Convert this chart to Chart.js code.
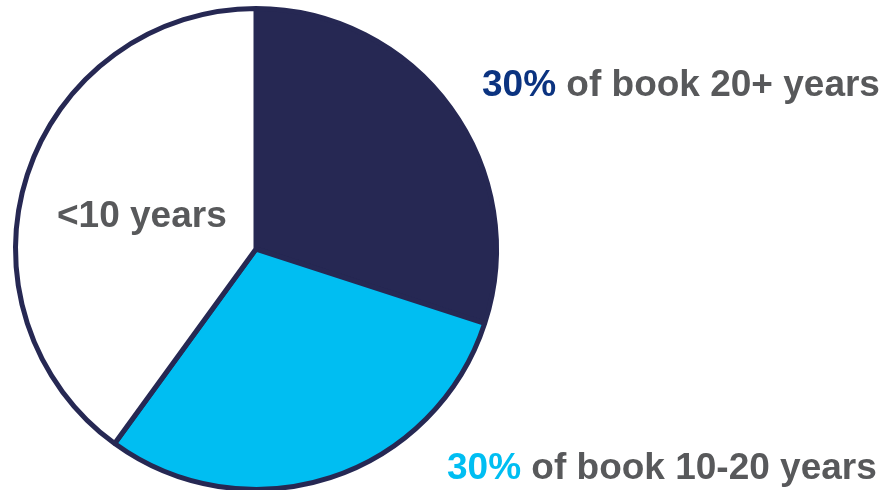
<!DOCTYPE html>
<html>
<head>
<meta charset="utf-8">
<script src="https://cdn.jsdelivr.net/npm/chart.js@4/dist/chart.umd.min.js"></script>
<style>
  html, body { margin: 0; padding: 0; background: #fff; overflow: hidden; }
  #wrap { position: relative; width: 885px; height: 496px; }
</style>
</head>
<body>
<div id="wrap"><canvas id="bookChart"></canvas></div>
<script>
// book split by age band
const segments = ["20+ years", "10-20 years", "<10 years"];
const shares = [30, 30, 40];
const sliceColors = ["#262853", "#00BEF2", "#FFFFFF"];
const pctColors = ["#0B3380", "#00BEF2", "#58595B"];

const navy = "#262853";
const grey = "#58595B";

// callout text next to / inside the pie
const labelText = {
  id: "labelText",
  afterDraw(chart) {
    const ctx = chart.ctx;
    ctx.save();
    ctx.font = "bold 37px 'Liberation Sans', Arial, sans-serif";
    ctx.textBaseline = "alphabetic";
    ctx.textAlign = "left";

    const callout = (i, x, y) => {
      const pct = shares[i] + "%";
      ctx.fillStyle = pctColors[i];
      ctx.fillText(pct, x, y);
      const w = ctx.measureText(pct + " ").width;
      ctx.fillStyle = grey;
      ctx.fillText("of book " + segments[i], x + w, y);
    };
    callout(0, 482, 96);
    callout(1, 447, 479);

    ctx.fillStyle = grey;
    ctx.fillText(segments[2], 57, 227);
    ctx.restore();
  }
};

new Chart(document.getElementById("bookChart"), {
  type: "pie",
  data: {
    labels: segments,
    datasets: [{
      data: shares,
      backgroundColor: sliceColors,
      borderColor: navy,
      borderWidth: 5
    }]
  },
  options: {
    responsive: true,
    maintainAspectRatio: false,
    animation: false,
    layout: { padding: { left: 13, top: 6, right: 386, bottom: 4 } },
    plugins: {
      legend: { display: false },
      tooltip: { enabled: false }
    }
  },
  plugins: [labelText]
});
</script>
</body>
</html>
